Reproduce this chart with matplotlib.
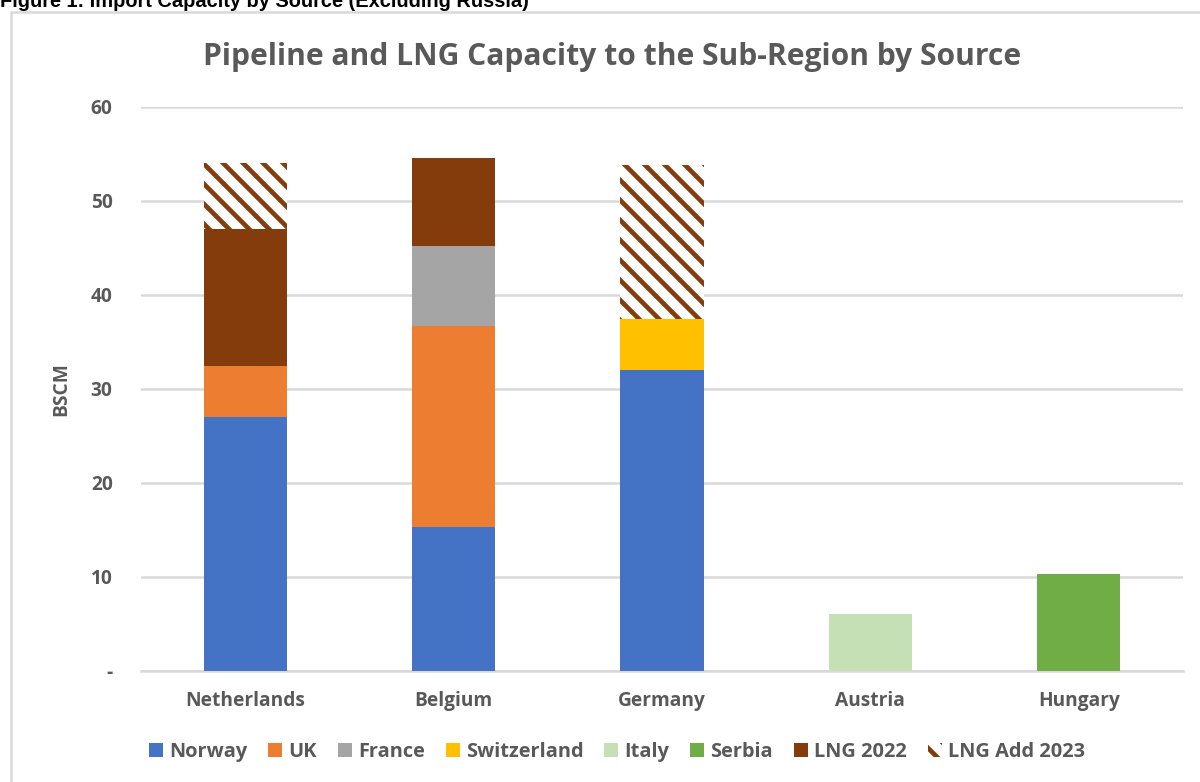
import numpy as np
import matplotlib
matplotlib.use("Agg")
import matplotlib.pyplot as plt
from matplotlib.patches import Rectangle

countries = ["Netherlands", "Belgium", "Germany", "Austria", "Hungary"]
norway = [27.0, 15.3, 32.0, 0, 0]
uk = [5.5, 21.4, 0, 0, 0]
france = [0, 8.5, 0, 0, 0]
switzerland = [0, 0, 5.4, 0, 0]
italy = [0, 0, 0, 6.1, 0]
serbia = [0, 0, 0, 0, 10.3]
lng_2022 = [14.5, 9.4, 0, 0, 0]
lng_add_2023 = [7.0, 0, 16.4, 0, 0]

series = [
    ("Norway", norway, "#4472C4"),
    ("UK", uk, "#ED7D31"),
    ("France", france, "#A5A5A5"),
    ("Switzerland", switzerland, "#FFC000"),
    ("Italy", italy, "#C5E0B4"),
    ("Serbia", serbia, "#70AD47"),
    ("LNG 2022", lng_2022, "#843C0C"),
]
yticks = [0, 10, 20, 30, 40, 50, 60]
ytick_labels = ["-", "10", "20", "30", "40", "50", "60"]

TEXT = "#595959"
GRID = "#D9D9D9"
BROWN = "#843C0C"
plt.rcParams["font.family"] = ["Open Sans", "DejaVu Sans"]
plt.rcParams["hatch.linewidth"] = 2.8
plt.rcParams["hatch.color"] = BROWN

DPI = 120
fig = plt.figure(figsize=(1200 / DPI, 782 / DPI), dpi=DPI)

# outer chart border (extends past the right/bottom edge)
fig.patches.append(Rectangle((11 / 1200, -0.1), 2, 770 / 782 + 0.1, transform=fig.transFigure,
                             fill=False, edgecolor=GRID, linewidth=1.5))
fig.text(0, 1 - 7 / 782, "Figure 1: Import Capacity by Source (Excluding Russia)",
         fontfamily="Liberation Sans", fontweight="bold", fontsize=12, color="black",
         ha="left", va="baseline")

ax = fig.add_axes([141 / 1200, 111 / 782, 1042 / 1200, 564 / 782])
x = np.arange(len(countries))
width = 0.4
bottom = np.zeros(len(countries))
for name, vals, col in series:
    vals = np.array(vals, dtype=float)
    ax.bar(x, vals, width, bottom=bottom, color=col, label=name, linewidth=0, zorder=3)
    bottom += vals
ax.bar(x, lng_add_2023, width, bottom=bottom, color="white", edgecolor=BROWN, hatch="\\\\",
       linewidth=0, label="LNG Add 2023", zorder=3)

ax.set_xlim(-0.5, len(countries) - 0.5)
ax.set_ylim(0, 60)
ax.set_yticks(yticks)
ax.set_yticklabels(ytick_labels)
ax.set_xticks(x)
ax.set_xticklabels(countries)
ax.grid(axis="y", color=GRID, linewidth=1.5, zorder=0)
for s in ["top", "right", "left"]:
    ax.spines[s].set_visible(False)
ax.spines["bottom"].set_color(GRID)
ax.spines["bottom"].set_linewidth(1.5)
ax.tick_params(axis="both", length=0, colors=TEXT, labelsize=11.5)
ax.tick_params(axis="y", pad=17)
ax.tick_params(axis="x", pad=12)
for lab in ax.get_xticklabels() + ax.get_yticklabels():
    lab.set_fontweight("bold")
ax.set_ylabel("BSCM", color=TEXT, fontweight="bold", fontsize=11.5, labelpad=12)

fig.text(612 / 1200, 1 - 57 / 782, "Pipeline and LNG Capacity to the Sub-Region by Source",
         ha="center", va="center", fontsize=18, fontweight="bold", color=TEXT)

leg = ax.legend(loc="center", bbox_to_anchor=(617 / 1200, 1 - 752 / 782), bbox_transform=fig.transFigure,
                ncol=8, frameon=False, handlelength=0.7, handleheight=0.7, handletextpad=0.3,
                columnspacing=1.05, fontsize=12)
for t in leg.get_texts():
    t.set_color(TEXT)
    t.set_fontweight("bold")

fig.savefig("out.png", dpi=DPI)
